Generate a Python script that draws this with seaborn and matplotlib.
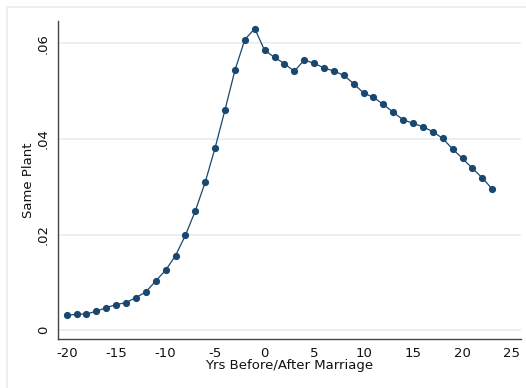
import numpy as np
import pandas as pd
import matplotlib
matplotlib.use("Agg")
import matplotlib.pyplot as plt
import seaborn as sns

years = list(range(-20, 24))
same_plant = [0.00314, 0.00335, 0.00342, 0.00398, 0.00474, 0.00537, 0.00579, 0.00684,
              0.00802, 0.01033, 0.01256, 0.01563, 0.01988, 0.02498, 0.03098, 0.03816,
              0.04612, 0.05435, 0.06077, 0.06307, 0.05853, 0.05707, 0.05574, 0.05414,
              0.05651, 0.05581, 0.05484, 0.05421, 0.05330, 0.05156, 0.04960, 0.04870,
              0.04723, 0.04556, 0.04402, 0.04326, 0.04256, 0.04151, 0.04012, 0.03788,
              0.03593, 0.03384, 0.03188, 0.02951]
xticks = [-20, -15, -10, -5, 0, 5, 10, 15, 20, 25]
yticks = [0, 0.02, 0.04, 0.06]
ytick_labels = ["0", ".02", ".04", ".06"]

df = pd.DataFrame({"year": years, "same": same_plant})

sns.set_style("white")
plt.rcParams["font.family"] = ["DejaVu Sans"]

W, H = 526, 388
fig = plt.figure(figsize=(W / 100, H / 100), dpi=100)
ax = fig.add_axes([58 / W, (H - 339) / H, (521 - 58) / W, (339 - 21) / H])

navy = "#1a476f"
grid_c = "#e4eef0"

# outer frame
fig.patches.append(plt.Rectangle((7 / W, -0.1), 1.2, (H - 7) / H + 0.1,
                                 transform=fig.transFigure, fill=False,
                                 edgecolor=grid_c, linewidth=1.2, zorder=0))

sns.lineplot(data=df, x="year", y="same", ax=ax, color=navy, linewidth=0.9,
             marker="o", markersize=5.2, markeredgewidth=0, markerfacecolor=navy)

ax.set_xlim(-20.88, 25.91)
ax.set_ylim(-0.00182, 0.06466)
ax.set_xticks(xticks)
ax.set_xticklabels([str(t) for t in xticks])
ax.set_yticks(yticks)
ax.set_yticklabels(ytick_labels, rotation=90, va="center")

for y in yticks:
    ax.axhline(y, color=grid_c, linewidth=1.2, zorder=0)

for s in ["top", "right"]:
    ax.spines[s].set_visible(False)
for s in ["left", "bottom"]:
    ax.spines[s].set_color("#444444")
    ax.spines[s].set_linewidth(1.0)

ax.tick_params(axis="both", direction="out", length=4.5, width=1.0, color="#444444",
               labelsize=9.5, labelcolor="#111111", pad=1.5)
ax.set_xlabel("Yrs Before/After Marriage", fontsize=9.5, color="#111111", labelpad=-1)
ax.set_ylabel("Same Plant", fontsize=9.5, color="#111111", labelpad=1)
ax.set_facecolor("white")

fig.savefig("out.png", dpi=100, facecolor="white")
